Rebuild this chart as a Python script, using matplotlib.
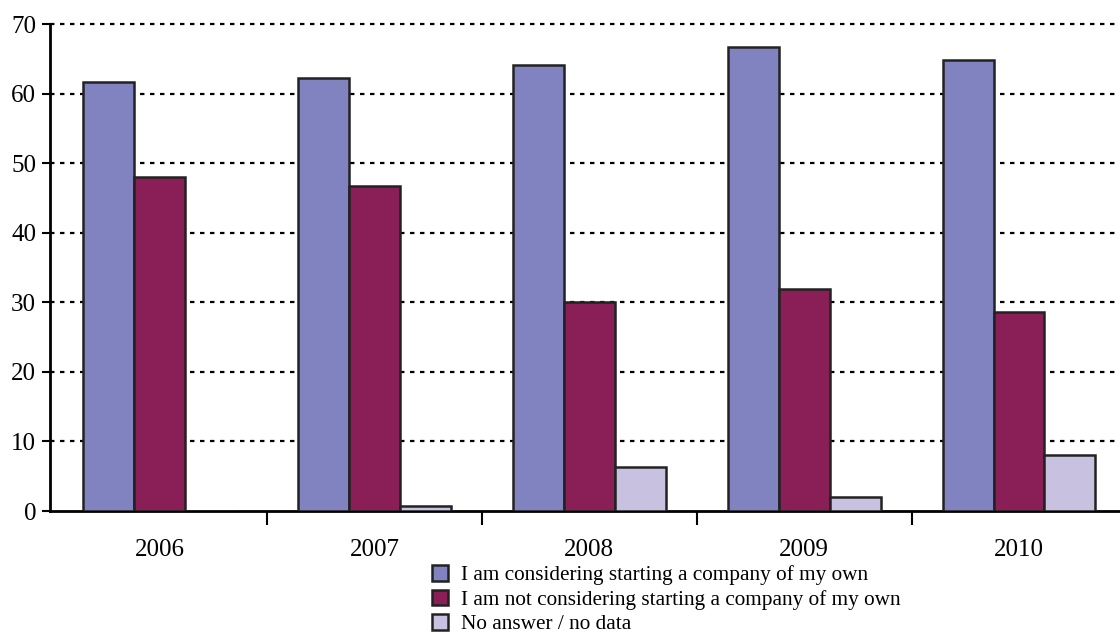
import matplotlib.pyplot as plt
import numpy as np

years = ["2006", "2007", "2008", "2009", "2010"]
considering = [61.7, 62.3, 64.1, 66.7, 64.9]
not_considering = [48.0, 46.7, 30.0, 31.9, 28.6]
no_answer = [0.0, 0.7, 6.3, 2.0, 8.0]
labels = ["I am considering starting a company of my own",
          "I am not considering starting a company of my own",
          "No answer / no data"]

plt.rcParams['font.family'] = ['Liberation Serif', 'DejaVu Serif']

fig = plt.figure(figsize=(11.2, 6.33), dpi=100)
ax = fig.add_axes([0.0446, 0.1927, 0.9554, 0.7693])

x = np.arange(len(years))
w = 0.237
edge = dict(edgecolor='#222222', linewidth=1.8, zorder=3)
ax.bar(x - w, considering, w, color='#8183C1', label=labels[0], **edge)
ax.bar(x, not_considering, w, color='#8A1F57', label=labels[1], **edge)
ax.bar(x + w, no_answer, w, color='#C9C1E0', label=labels[2], **edge)

ax.set_ylim(0, 70)
ax.set_xlim(-0.51, 4.47)
ax.set_yticks(range(0, 71, 10))
ax.tick_params(axis='y', labelsize=18, length=6, width=1.5, direction='out', pad=4)

# category labels in the middle, tick marks between groups
ax.set_xticks(x)
ax.set_xticklabels(years, fontsize=18)
ax.tick_params(axis='x', which='major', length=0, pad=20)
ax.set_xticks(np.arange(0.5, 4.5, 1), minor=True)
ax.tick_params(axis='x', which='minor', length=10, width=1.5, direction='out')

for v in range(10, 71, 10):
    ax.axhline(v, color='black', linestyle=(0, (2, 2.5)), linewidth=1.6,
               zorder=1, clip_on=False)

for s in ['top', 'right']:
    ax.spines[s].set_visible(False)
ax.spines['left'].set_linewidth(2)
ax.spines['bottom'].set_linewidth(2)

fig.legend(loc='upper left', bbox_to_anchor=(0.386, 0.107), frameon=False,
           fontsize=15.3, handlelength=0.75, handleheight=0.75, handletextpad=0.6,
           labelspacing=0.2, borderpad=0, borderaxespad=0)

fig.savefig('out.png', dpi=100)
